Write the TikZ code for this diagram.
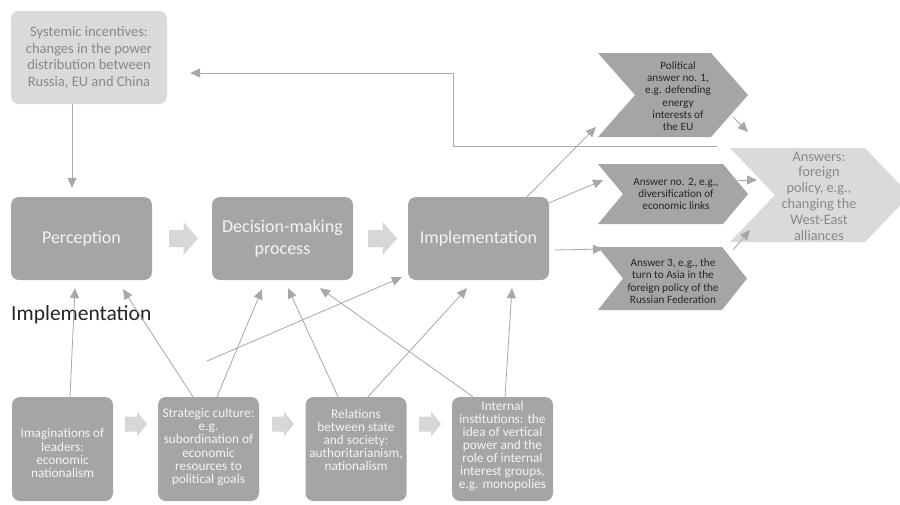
\documentclass[tikz,border=0pt]{standalone}
\usepackage{fontspec}
\setmainfont{Carlito}
\usetikzlibrary{arrows.meta}

\definecolor{boxgray}{HTML}{A5A5A6}
\definecolor{palegray}{HTML}{DADADB}
\definecolor{blockgray}{HTML}{D7D7D8}
\definecolor{linegray}{HTML}{A8A8A9}
\definecolor{softtext}{HTML}{888889}
\definecolor{darktext}{HTML}{262626}
\definecolor{whitetext}{HTML}{F4F4F4}

% tight leading for the factor boxes
\newcommand\lowboxfont{\fontsize{13.3}{13.1}\selectfont\lineskiplimit=-20pt\relax}

\begin{document}
\begin{tikzpicture}[x=1pt,y=-1pt,
  mainbox/.style={rounded corners=8pt, fill=boxgray, inner sep=0pt,
    minimum width=141pt, minimum height=83pt, align=center,
    text=whitetext, font=\fontsize{18}{22}\selectfont},
  sysbox/.style={rounded corners=8pt, fill=palegray, inner sep=0pt,
    minimum width=156pt, minimum height=93pt, align=center,
    text=softtext, font=\fontsize{14.5}{16.7}\selectfont},
  lowbox/.style={rounded corners=8pt, fill=boxgray, inner sep=0pt,
    minimum width=101pt, minimum height=104pt},
  lowtext/.style={inner sep=0pt, align=center, text=whitetext,
    font=\lowboxfont},
  chevtext/.style={inner sep=0pt, align=center, text=darktext,
    font=\fontsize{11.2}{12.3}\selectfont},
  answertext/.style={inner sep=0pt, align=center, text=softtext,
    font=\fontsize{14.3}{15.8}\selectfont},
  conn/.style={draw=linegray, line width=0.8pt,
    -{Triangle[length=10pt,width=9pt]}},
  bigblock/.pic={\fill[blockgray] (-14.5,-8.5) -- (0,-8.5) -- (0,-16.5)
    -- (14.5,0) -- (0,16.5) -- (0,8.5) -- (-14.5,8.5) -- cycle;},
  smallblock/.pic={\fill[blockgray] (-11,-7.5) -- (1,-7.5) -- (1,-12.5)
    -- (11,0) -- (1,12.5) -- (1,7.5) -- (-11,7.5) -- cycle;}
]
\useasboundingbox (0,0) rectangle (900,504);
\clip (0,0) rectangle (900,504);
\fill[white] (0,0) rectangle (900,504);

% systemic level
\node[sysbox] (sys) at (89,57.5)
  {Systemic incentives:\\changes in the power\\distribution between\\Russia, EU and China};

% main process chain
\node[mainbox] (perc) at (81.5,238.5) {Perception};
\node[mainbox] (dec) at (282.5,238.5) {Decision-making\\process};
\node[mainbox] (impl) at (478.5,238.5) {Implementation};
\pic at (183.5,238.5) {bigblock};
\pic at (382.5,238.5) {bigblock};

\node[anchor=base west, inner sep=0pt, text=darktext,
  font=\fontsize{21.5}{24}\selectfont] (impllabel) at (11,320) {Implementation};

% domestic factors
\node[lowbox] (imag) at (62.5,449) {};
\node[lowbox] (strat) at (208.5,449) {};
\node[lowbox] (rel) at (356,449) {};
\node[lowbox] (intl) at (502.5,449) {};
\node[lowtext] (imagt) at (62.5,453)
  {Imaginations of\\leaders:\\economic\\nationalism};
\node[lowtext] (stratt) at (208.5,447)
  {Strategic culture:\\e.g.\\subordination of\\economic\\resources to\\political goals};
\node[lowtext] (relt) at (356,440)
  {Relations\\between state\\and society:\\authoritarianism,\\nationalism};
\node[lowtext] (intlt) at (502.5,446)
  {Internal\\institutions: the\\idea of vertical\\power and the\\role of internal\\interest groups,\\e.g. monopolies};
\pic at (136,424) {smallblock};
\pic at (283,424) {smallblock};
\pic at (430,424) {smallblock};

% political answers
\fill[boxgray] (598,53) coordinate (c1tl) -- (711,53) -- (748,95) coordinate (c1tip)
  -- (711,137) -- (598,137) coordinate (c1bl) -- (635,95) -- cycle;
\fill[boxgray] (598,164) coordinate (c2tl) -- (723,164) -- (748,194) coordinate (c2tip)
  -- (723,224) -- (598,224) -- (623,194) -- cycle;
\fill[boxgray] (598,247) coordinate (c3tl) -- (722,247) coordinate (c3tr)
  -- (747,278.5) -- (722,310) -- (598,310) -- (623,278.5) -- cycle;
\fill[palegray] (730,148) coordinate (btl) -- (865,148) -- (910,195)
  -- (865,242) -- (730,242) coordinate (bbl) -- (775,195) coordinate (bnotch) -- cycle;

\node[chevtext] (c1t) at (678,96)
  {Political\\answer no. 1,\\e.g. defending\\energy\\interests of\\the EU};
\node[chevtext] (c2t) at (676,194)
  {Answer no. 2, e.g.,\\diversification of\\economic links};
\node[chevtext] (c3t) at (673,281)
  {Answer 3, e.g., the\\turn to Asia in the\\foreign policy of the\\Russian Federation};
\node[answertext] (anst) at (819,196)
  {Answers:\\foreign\\policy, e.g.,\\changing the\\West-East\\alliances};

% influences
\draw[conn] ([xshift=-17pt]sys.south) -- ([xshift=-9.5pt,yshift=9pt]perc.north);
\draw[conn] ([xshift=7.5pt]imag.north) -- ([xshift=-6.5pt,yshift=-8pt]perc.south);
\draw[conn] ([xshift=-15.5pt]strat.north) -- ([xshift=41.5pt,yshift=-9pt]perc.south);
\draw[conn] ([xshift=8.5pt]strat.north) -- ([xshift=-20.5pt,yshift=-9pt]dec.south);
\coordinate (sc) at (207,361);
\draw[conn] (sc) -- ([xshift=-6pt,yshift=3pt]impl.south west);
\draw[conn] ([xshift=-18pt]rel.north) -- ([xshift=5.5pt,yshift=-8pt]dec.south);
\draw[conn] ([xshift=12pt]rel.north) -- ([xshift=-11.5pt,yshift=-8pt]impl.south);
\draw[conn] ([xshift=-29.5pt]intl.north) -- ([xshift=37.5pt,yshift=-8pt]dec.south);
\draw[conn] ([xshift=2.5pt]intl.north) -- ([xshift=33.5pt,yshift=-8pt]impl.south);

% implementation to answers
\draw[conn] ([xshift=48.5pt]impl.north) -- ([xshift=-2pt,yshift=10pt]c1bl);
\draw[conn] ([yshift=-6pt]impl.north east) -- ([xshift=5pt,yshift=-16pt]c2tl);
\draw[conn] ([xshift=6pt,yshift=-11.5pt]impl.east) -- ([xshift=5pt,yshift=-2pt]c3tl);

\draw[conn] ([xshift=-15pt,yshift=-22pt]c1tip) -- ([xshift=18pt,yshift=16pt]btl);
\draw[conn] ([xshift=-10pt,yshift=14pt]c2tip) -- ([xshift=-18pt,yshift=15pt]bnotch);
\draw[conn] ([xshift=11pt,yshift=-3pt]c3tr) -- ([xshift=20pt,yshift=12pt]bbl);

% feedback to the systemic level
\draw[conn, line width=1pt] ([xshift=-13pt,yshift=2pt]btl) -- ++(-264,0)
  |- ([xshift=23pt,yshift=-15.5pt]sys.east);
\end{tikzpicture}
\end{document}
